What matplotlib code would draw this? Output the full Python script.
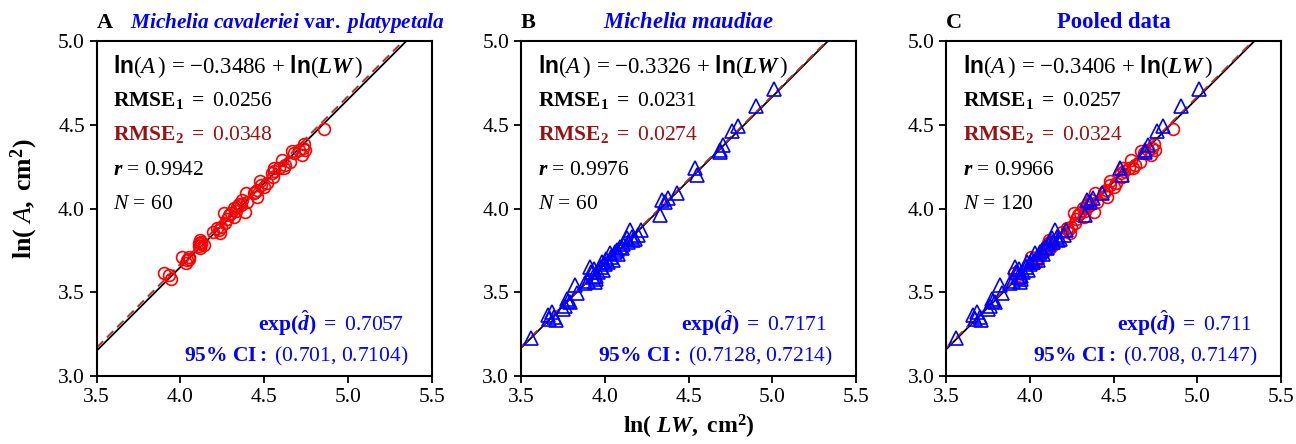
import matplotlib
matplotlib.use('Agg')
import matplotlib.pyplot as plt
import numpy as np

plt.rcParams['font.family'] = ['Liberation Serif', 'DejaVu Serif']
plt.rcParams['mathtext.fontset'] = 'custom'
plt.rcParams['mathtext.rm'] = 'Liberation Serif'
plt.rcParams['mathtext.it'] = 'Liberation Serif:italic'
plt.rcParams['mathtext.bf'] = 'Liberation Serif:bold'
plt.rcParams['mathtext.bfit'] = 'Liberation Serif:italic:bold'
plt.rcParams['mathtext.sf'] = 'Liberation Sans:bold'

# Michelia cavaleriei var. platypetala (red circles)
a_x = [3.904, 3.942, 3.930, 4.008, 4.034, 4.054, 4.040, 4.108, 4.114, 4.118,
       4.141, 4.125, 4.110, 4.221, 4.237, 4.230, 4.245, 4.261, 4.267, 4.275,
       4.290, 4.317, 4.321, 4.330, 4.347, 4.340, 4.386, 4.366, 4.392, 4.400,
       4.456, 4.460, 4.445, 4.476, 4.480, 4.516, 4.500, 4.546, 4.556, 4.550,
       4.560, 4.606, 4.616, 4.625, 4.655, 4.665, 4.680, 4.705, 4.725, 4.739,
       4.730, 4.745, 4.855, 4.300, 4.195, 4.440, 4.590, 4.120, 4.050, 4.360]
a_y = [3.617, 3.581, 3.605, 3.709, 3.673, 3.713, 3.690, 3.792, 3.812, 3.762,
       3.782, 3.800, 3.775, 3.882, 3.852, 3.870, 3.890, 3.972, 3.912, 3.940,
       3.960, 4.002, 3.952, 3.985, 4.028, 4.010, 3.982, 4.052, 4.092, 4.040,
       4.112, 4.072, 4.100, 4.162, 4.140, 4.152, 4.130, 4.212, 4.242, 4.190,
       4.225, 4.287, 4.242, 4.260, 4.276, 4.341, 4.330, 4.351, 4.321, 4.387,
       4.360, 4.350, 4.477, 3.975, 3.860, 4.090, 4.240, 3.790, 3.700, 4.020]

# Michelia maudiae (blue triangles)
b_x = [3.560, 3.663, 3.683, 3.709, 3.753, 3.773, 3.793, 3.823, 3.833, 3.882,
       3.912, 3.932, 3.942, 3.982, 3.992, 4.032, 4.048, 4.072, 4.102, 4.131,
       4.151, 4.171, 4.201, 4.215, 4.327, 4.341, 4.380, 4.430, 4.540, 4.550,
       4.689, 4.705, 4.759, 4.793, 4.904, 5.008,
       3.670, 3.700, 3.760, 3.780, 3.900, 3.920, 3.935, 3.945, 3.950, 3.960,
       3.975, 4.000, 4.010, 4.020, 4.040, 4.060, 4.080, 4.090, 4.110, 4.140,
       4.160, 4.180, 4.360, 4.690]
b_y = [3.228, 3.363, 3.383, 3.333, 3.403, 3.463, 3.443, 3.543, 3.493, 3.553,
       3.653, 3.593, 3.563, 3.683, 3.633, 3.733, 3.693, 3.753, 3.763, 3.823,
       3.873, 3.813, 3.843, 3.873, 3.962, 4.052, 4.062, 4.092, 4.242, 4.202,
       4.351, 4.381, 4.461, 4.491, 4.615, 4.711,
       3.340, 3.350, 3.420, 3.450, 3.570, 3.620, 3.640, 3.600, 3.580, 3.620,
       3.650, 3.670, 3.700, 3.680, 3.710, 3.740, 3.730, 3.770, 3.790, 3.800,
       3.830, 3.820, 4.040, 4.340]

letters = ['A', 'B', 'C']
intercepts = ['0.3486', '0.3326', '0.3406']
intercepts2 = [-0.330, -0.326, -0.332]
rmse1 = ['0.0256', '0.0231', '0.0257']
rmse2 = ['0.0348', '0.0274', '0.0324']
r_vals = ['0.9942', '0.9976', '0.9966']
n_vals = ['60', '60', '120']
exp_d = ['0.7057', '0.7171', '0.711']
ci = ['(0.701, 0.7104)', '(0.7128, 0.7214)', '(0.708, 0.7147)']
titles = [r'$\mathbfit{Michelia\ cavaleriei}\ \mathbf{var.}\ \mathbfit{platypetala}$',
          r'$\mathbfit{Michelia\ maudiae}$',
          'Pooled data']

fig = plt.figure(figsize=(12.96, 4.44), dpi=100)
lefts = [0.0746, 0.402, 0.730]
blue = '#0000ff'
dred = '#9b1010'
lred = '#b5302a'

for i in range(3):
    ax = fig.add_axes([lefts[i], 0.153, 0.2585, 0.7545])
    xx = np.array([3.5, 5.5])
    ax.plot(xx, xx - float(intercepts[i]), color='black', lw=1.3, zorder=2)
    ax.plot(xx, xx + intercepts2[i], color=lred, lw=1.3, ls=(0, (5, 3)), zorder=2)
    if i in (0, 2):
        ax.plot(a_x, a_y, 'o', ms=8.5, mfc='none', mec='#ff0000', mew=1.2, zorder=3)
    if i in (1, 2):
        ax.plot(b_x, b_y, '^', ms=10, mfc='none', mec=blue, mew=1.2, zorder=4)
    ax.set_xlim(3.5, 5.5)
    ax.set_ylim(3.0, 5.0)
    ax.set_xticks(np.arange(3.5, 5.51, 0.5))
    ax.set_yticks(np.arange(3.0, 5.01, 0.5))
    ax.xaxis.set_major_formatter(matplotlib.ticker.FormatStrFormatter('%.1f'))
    ax.yaxis.set_major_formatter(matplotlib.ticker.FormatStrFormatter('%.1f'))
    ax.tick_params(direction='out', length=5, width=1.3, labelsize=15.5)
    for s in ax.spines.values():
        s.set_linewidth(1.5)

    fs = 15.5
    ax.text(0.05, 0.905, r'$\mathsf{ln}(\mathit{A}\,)$ = $-$' + intercepts[i] + r' + $\mathsf{ln}(\mathbfit{LW}\,)$',
            transform=ax.transAxes, fontsize=16.5, color='black')
    ax.text(0.05, 0.805, r'$\mathbf{RMSE_1\ =}$ ' + rmse1[i], transform=ax.transAxes,
            fontsize=fs, color='black')
    ax.text(0.05, 0.705, r'$\mathbf{RMSE_2\ =}$ ' + rmse2[i], transform=ax.transAxes,
            fontsize=fs, color=dred)
    ax.text(0.05, 0.600, r'$\mathbfit{r}$ = ' + r_vals[i], transform=ax.transAxes,
            fontsize=fs, color='black')
    ax.text(0.05, 0.500, r'$\mathit{N}$ = ' + n_vals[i], transform=ax.transAxes,
            fontsize=fs, color='black')
    ax.text(0.915, 0.135, r'$\mathbf{exp(}\hat{\mathbfit{d}}\mathbf{)\ =}$ ' + exp_d[i],
            transform=ax.transAxes, fontsize=fs, color=blue, ha='right')
    ax.text(0.93, 0.045, r'$\mathbf{95\%\ CI:}$ ' + ci[i], transform=ax.transAxes,
            fontsize=fs, color=blue, ha='right')

    ax.text(0.0, 1.04, letters[i], transform=ax.transAxes, fontsize=16,
            fontweight='bold', color='black')
    if i == 0:
        ax.text(0.10, 1.04, titles[i], transform=ax.transAxes, fontsize=15.3,
                color=blue, ha='left')
    else:
        ax.text(0.5, 1.04, titles[i], transform=ax.transAxes, fontsize=16.3,
                color=blue, ha='center', fontweight='bold')

    if i == 0:
        ax.set_ylabel(r'$\mathbf{ln(}\ \mathit{A}\mathbf{,\ cm^{2})}$', fontsize=18.5, labelpad=9)
        ax.yaxis.set_label_coords(-0.17, 0.53)
    if i == 1:
        ax.set_xlabel(r'$\mathbf{ln(}\ \mathbfit{LW}\mathbf{,\ cm^{2})}$', fontsize=17, labelpad=4)

plt.savefig('out.png', dpi=100)
